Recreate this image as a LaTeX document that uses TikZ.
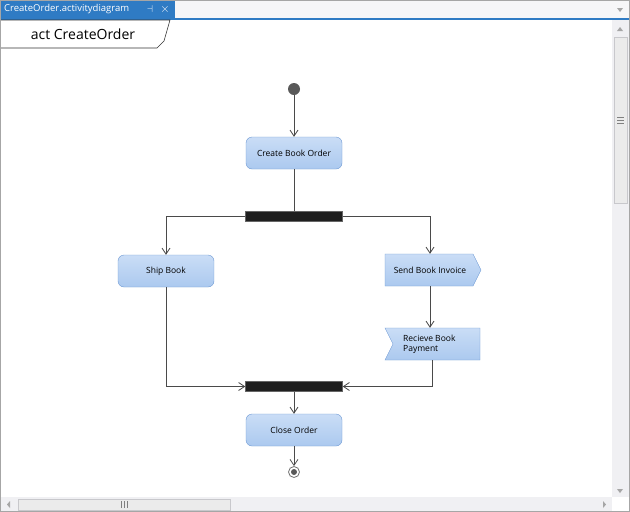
\documentclass[tikz,border=0pt]{standalone}
\usepackage{fontspec}
\setmainfont{Open Sans}
\usetikzlibrary{arrows.meta}
\definecolor{tabblue}{HTML}{2F7BC4}
\definecolor{boxtop}{HTML}{CADDF6}
\definecolor{boxbot}{HTML}{ABC9EF}
\definecolor{boxedge}{HTML}{6E99D4}
\definecolor{linegray}{HTML}{4A4A4A}
\definecolor{chrome}{HTML}{F0F0F3}
\definecolor{chromeedge}{HTML}{C8C8CC}
\tikzset{
  x=1pt,y=-1pt,
  action/.style={draw=boxedge,top color=boxtop,bottom color=boxbot,rounded corners=6pt,minimum width=96pt,minimum height=32pt,font=\fontsize{8.5}{10}\selectfont,inner sep=0pt},
  bar/.style={fill=black!88,draw=black!60,minimum width=97pt,minimum height=10pt,inner sep=0pt},
  flow/.style={draw=linegray,line width=0.8pt,-{Straight Barb[length=6pt,width=8pt,line width=0.8pt]}},
  plainflow/.style={draw=linegray,line width=0.8pt},
  sigfill/.style={draw=boxedge,top color=boxtop,bottom color=boxbot},
  sigtext/.style={font=\fontsize{8.5}{10}\selectfont,inner sep=0pt}
}
\begin{document}
\begin{tikzpicture}
\useasboundingbox (0,0) rectangle (630,512);
% window
\fill[white] (0,0) rectangle (630,512);
\fill[chrome!60] (0,0) rectangle (630,18);
\fill[tabblue] (1,1) rectangle (175,18);
\node[anchor=west,text=white,font=\fontsize{9.5}{10}\selectfont,inner sep=0pt] (tabtext) at (4,9.5) {CreateOrder.activitydiagram};
\node[text=white,font=\fontsize{10}{10}\selectfont,inner sep=0pt] (pin) at (150,9.5) {$\dashv$};
\node[text=white,font=\fontsize{13}{13}\selectfont,inner sep=0pt] (closex) at (165,9) {$\times$};
\fill[tabblue] (0,17.5) rectangle (630,19.5);
\fill[gray!70] (617,8) -- (623,8) -- (620,12) -- cycle;
% frame label
\draw[black!80,line width=0.6pt,fill=white] (0,20) -- (170,20) -- (164,41) -- (157,48) -- (0,48);
\node[font=\fontsize{14}{15}\selectfont,inner sep=0pt] (frametitle) at (83,34) {act CreateOrder};
% scrollbars
\fill[chrome] (612,20) rectangle (629,497);
\draw[chromeedge,fill=black!8] (614,37) rectangle (627,203);
\draw[black!50,line width=0.5pt] (617,117) -- (624,117) (617,120) -- (624,120) (617,123) -- (624,123);
\fill[gray!70] (617,31) -- (623,31) -- (620,27) -- cycle;
\fill[gray!70] (617,489) -- (623,489) -- (620,493) -- cycle;
\fill[chrome] (1,497) rectangle (612,511);
\draw[chromeedge,fill=black!8] (18,499) rectangle (230,510);
\draw[black!50,line width=0.5pt] (121,501) -- (121,508) (124,501) -- (124,508) (127,501) -- (127,508);
\fill[gray!70] (10,501) -- (10,508) -- (7,504.5) -- cycle;
\fill[gray!70] (603,501) -- (603,508) -- (606,504.5) -- cycle;
\draw[black!35,line width=1pt] (0.5,0.5) rectangle (629.5,511.5);
% diagram
\fill[black!65] (294,89) circle (6);
\node[circle,minimum size=12pt,inner sep=0pt] (init) at (294,89) {};
\node[action] (create) at (294,153) {Create Book Order};
\node[bar] (fork) at (294,216.5) {};
\node[action] (ship) at (166,271) {Ship Book};
% send signal
\path[sigfill] (385,254) -- (473,254) -- (481,270) -- (473,286) -- (385,286) -- cycle;
\node[sigtext,minimum width=90pt,minimum height=32pt] (send) at (430,270) {Send Book Invoice};
% accept event
\path[sigfill] (385,328) -- (480,328) -- (480,360) -- (385,360) -- (393,344) -- cycle;
\node[sigtext,anchor=west,align=left] (recvtext) at (403,344) {Recieve Book\\Payment};
\node[minimum width=95pt,minimum height=32pt,inner sep=0pt] (recv) at (432.5,344) {};
\node[bar] (join) at (294,386.5) {};
\node[action] (close) at (294,430) {Close Order};
\node[circle,draw=black!55,fill=white,line width=0.8pt,minimum size=11pt,inner sep=0pt] (final) at (294,472) {};
\fill[black!65] (final.center) circle (3);
% connectors
\draw[flow] (init) -- (create);
\draw[plainflow] (create) -- (fork);
\draw[flow] (fork.west) -| (ship.north);
\draw[flow] (fork.east) -| (send.north);
\draw[flow] (send.south) -- (send.south |- recv.north);
\draw[flow] (ship.south) |- (join.west);
\draw[flow] (recv.south) |- (join.east);
\draw[flow] (join) -- (close);
\draw[flow] (close) -- (final);
\end{tikzpicture}
\end{document}
